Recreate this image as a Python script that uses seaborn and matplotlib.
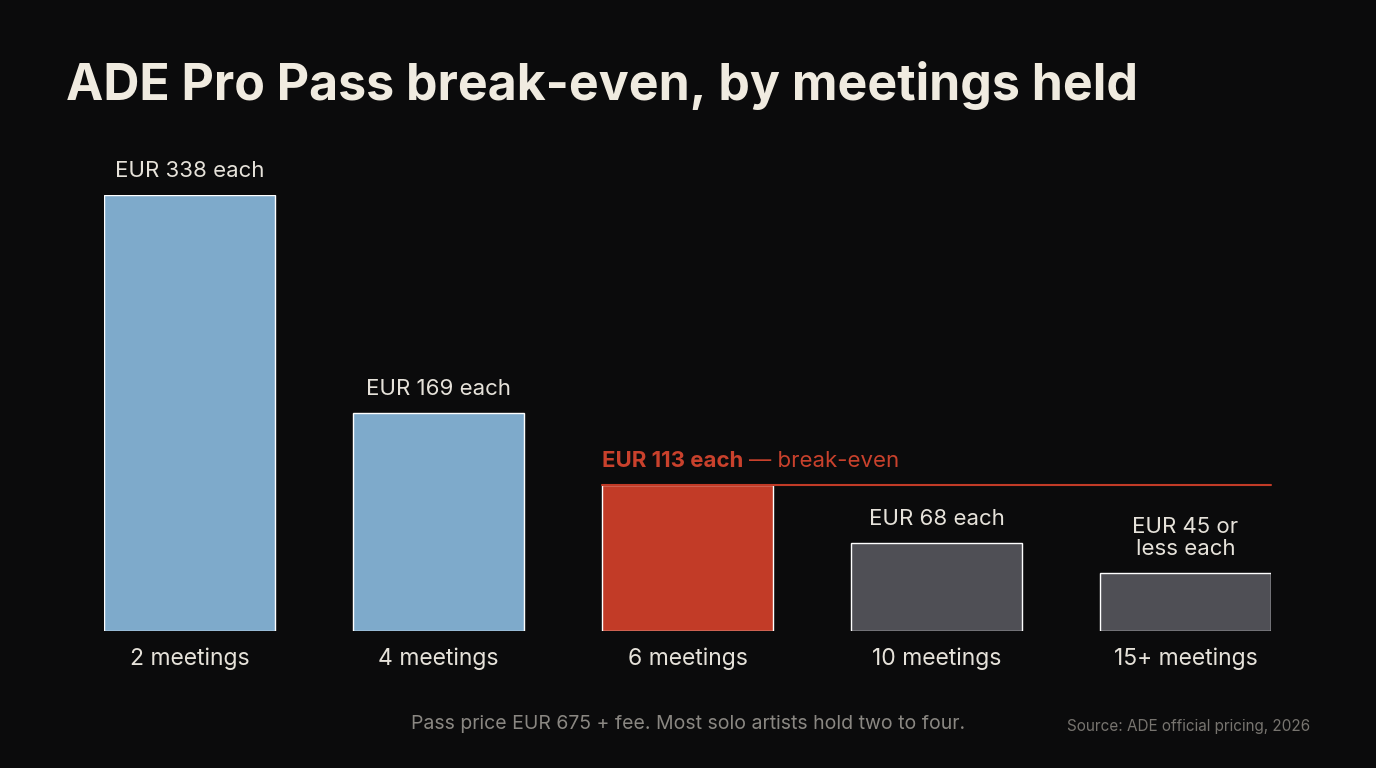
import matplotlib
matplotlib.use("Agg")
import matplotlib.pyplot as plt
import seaborn as sns
import pandas as pd

categories = ["2 meetings", "4 meetings", "6 meetings", "10 meetings", "15+ meetings"]
values = [338, 169, 113, 68, 45]
labels = ["EUR 338 each", "EUR 169 each", None, "EUR 68 each", "EUR 45 or\nless each"]
colors = ["#7eaacb", "#7eaacb", "#c23b27", "#4f4f55", "#4f4f55"]

BG = "#0b0b0c"
sns.set_theme(style="dark")
plt.rcParams['font.family'] = ['Inter', 'DejaVu Sans']

fig = plt.figure(figsize=(13.76, 7.68), dpi=100, facecolor=BG)
ax = fig.add_axes([104/1376, 1-631/768, 1167/1376, (631-195)/768])
ax.set_facecolor(BG)
df = pd.DataFrame({"cat": categories, "val": values})
sns.barplot(data=df, x="cat", y="val", hue="cat", palette=colors, legend=False,
            width=171/249, saturation=1, ax=ax)
ax.set_xlim(-0.5*171/249, 4+0.5*171/249)
ax.set_ylim(0, 338)
ax.set_xlabel(""); ax.set_ylabel("")
ax.set_yticks([])
ax.tick_params(axis="x", length=0, pad=12, labelsize=16.5, colors="#e6e2da")
for s in ax.spines.values():
    s.set_visible(False)
ax.grid(False)

for i, (v, lab) in enumerate(zip(values, labels)):
    if lab:
        ax.annotate(lab, (i, v), xytext=(0, 10), textcoords="offset points",
                    ha="center", va="bottom", fontsize=16, color="#e6e2da", linespacing=1.1)

be = values[2]
ax.plot([2-0.5*171/249, 4+0.5*171/249], [be, be], color="#c23b27", lw=1.5, clip_on=False)
t = ax.annotate("EUR 113 each", (2-0.5*171/249, be), xytext=(0, 10), textcoords="offset points",
                ha="left", va="bottom", fontsize=16, fontweight="bold", color="#c9412c")
fig.canvas.draw()
bb = t.get_window_extent()
fig.text(bb.x1/1376 + 0.004, bb.y0/768, "— break-even", fontsize=16, color="#c9412c",
         ha="left", va="bottom")

fig.text(66/1376, 1-86/768, "ADE Pro Pass break-even, by meetings held", fontsize=36,
         fontweight="bold", color="#f0ebe0", ha="left", va="center")
fig.text(688/1376, 1-724/768, "Pass price EUR 675 + fee. Most solo artists hold two to four.",
         fontsize=14, color="#8a8782", ha="center", va="center")
fig.text(1310/1376, 1-726/768, "Source: ADE official pricing, 2026",
         fontsize=11, color="#77746f", ha="right", va="center")

fig.savefig("out.png", dpi=100, facecolor=BG)
